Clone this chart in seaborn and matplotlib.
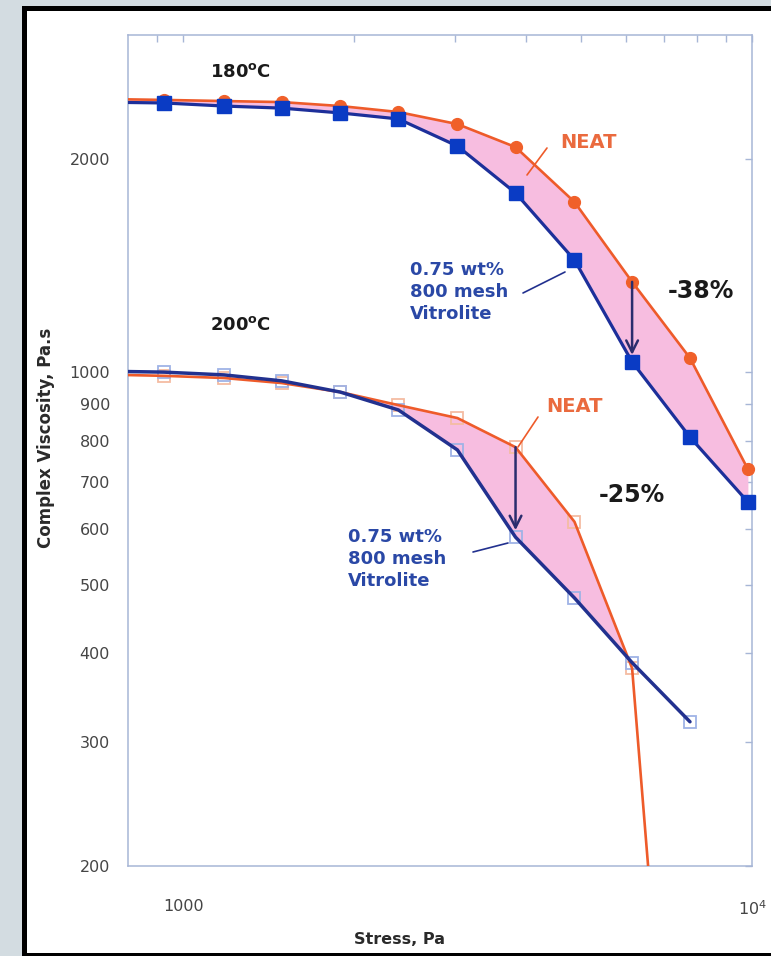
import numpy as np
import matplotlib
matplotlib.use("Agg")
import matplotlib.pyplot as plt
import seaborn as sns
from matplotlib.patches import Rectangle
from matplotlib.ticker import FixedLocator, FixedFormatter, NullFormatter

# ---- data -------------------------------------------------------------
stress = [730, 925, 1180, 1490, 1890, 2390, 3035, 3840, 4875, 6155, 7780, 9835]

# 180 C
neat_180 = [2435, 2428, 2419, 2411, 2380, 2334, 2244, 2082, 1741, 1342, 1047, 729]
vitro_180 = [2410, 2404, 2380, 2364, 2327, 2282, 2089, 1793, 1441, 1034, 809, 655]

# 200 C (measured up to 7780 Pa)
neat_200 = [992, 988, 981, 965, 937, 898, 861, 783, 614, 381, 37]
vitro_200 = [1003, 1000, 991, 972, 937, 884, 776, 584, 479, 388, 320]

y_ticks = [200, 300, 400, 500, 600, 700, 800, 900, 1000, 2000]
y_tick_labels = ["200", "300", "400", "500", "600", "700", "800", "900", "1000", "2000"]
x_ticks = [1000, 10000]
x_tick_labels = ["1000", "$10^4$"]
x_minor = [900, 2000, 3000, 4000, 5000, 6000, 7000, 8000, 9000]

# ---- style ------------------------------------------------------------
sns.set_theme(style="white")
plt.rcParams["font.family"] = ["DejaVu Sans"]

RED = "#ee5b2a"
RED_MK = "#f0602a"
BLUE_180 = "#1d2f9a"
BLUE_MK = "#0a3bc4"
BLUE_200 = "#22318f"
PINK = "#f7bde0"
ORANGE_TXT = "#ea6a3e"
BLUE_TXT = "#2a48a6"
SPINE = "#a7b6d6"
ARROW = "#2b2d6e"

W, H = 771, 956
fig = plt.figure(figsize=(W / 100, H / 100), dpi=100, facecolor="#d3dce1")

# white panel with heavy black border
fig.patches.append(Rectangle((23.5 / W, 1 - 955 / H), (820 - 23.5) / W, (955 - 7.5) / H,
                             transform=fig.transFigure, facecolor="white",
                             edgecolor="black", lw=3.6, zorder=-10))

L, R, T, B = 128, 752, 35, 866
ax = fig.add_axes([L / W, 1 - B / H, (R - L) / W, (B - T) / H])
ax.set_facecolor("white")
ax.set_xscale("log")
ax.set_yscale("log")


def P(x, y):
    """pixel position -> axes fraction"""
    return (x - L) / (R - L), (B - y) / (B - T)


def band(x, hi, lo):
    lx = np.log10(np.asarray(x, float))
    grid = np.linspace(lx[0], lx[-1], 1500)
    h = np.interp(grid, lx, np.log10(hi))
    l = np.interp(grid, lx, np.log10(lo))
    ax.fill_between(10 ** grid, 10 ** h, 10 ** l, where=h >= l,
                    color=PINK, lw=0, zorder=1)


s = np.array(stress, float)
s200 = s[:len(neat_200)]

band(s, neat_180, vitro_180)
band(s200, neat_200, vitro_200)

# 200 C: faint hollow markers under the lines
vis200 = s200 >= 800
ax.plot(s200[vis200][:-1], np.array(neat_200)[vis200][:-1], ls="none", marker="s",
        ms=8.5, mfc="none", mec="#f4bca2", mew=1.3, zorder=2)
ax.plot(s200[vis200], np.array(vitro_200)[vis200], ls="none", marker="s",
        ms=8.5, mfc="none", mec="#9fb3e6", mew=1.3, zorder=2, clip_on=False)

sns.lineplot(x=s200, y=neat_200, ax=ax, color=RED, lw=1.9, sort=False,
             estimator=None, zorder=3)
sns.lineplot(x=s200, y=vitro_200, ax=ax, color=BLUE_200, lw=2.5, sort=False,
             estimator=None, zorder=4)

# 180 C: lines with filled markers
sns.lineplot(x=s, y=neat_180, ax=ax, color=RED, lw=1.9, sort=False,
             estimator=None, zorder=5)
sns.lineplot(x=s, y=vitro_180, ax=ax, color=BLUE_180, lw=2.3, sort=False,
             estimator=None, zorder=6)
vis = (s >= 800) & (s <= 10000)
ax.plot(s[vis], np.array(neat_180)[vis], ls="none", marker="o", ms=8.5,
        mfc=RED_MK, mec=RED_MK, zorder=5.5, clip_on=False)
ax.plot(s[vis], np.array(vitro_180)[vis], ls="none", marker="s", ms=10,
        mfc=BLUE_MK, mec=BLUE_MK, zorder=6.5, clip_on=False)

# reduction arrows
arrow_kw = dict(arrowstyle="->,head_length=0.7,head_width=0.35", color=ARROW,
                lw=1.8, shrinkA=0, shrinkB=5)
ax.annotate("", xy=(s[9], vitro_180[9]), xytext=(s[9], neat_180[9]),
            arrowprops=arrow_kw, zorder=8)
ax.annotate("", xy=(s[7], vitro_200[7]), xytext=(s[7], neat_200[7]),
            arrowprops=arrow_kw, zorder=8)

# axes limits and ticks
ax.set_xlim(800, 10000)
ax.set_ylim(200, 3000)
ax.xaxis.set_major_locator(FixedLocator(x_ticks))
ax.xaxis.set_major_formatter(FixedFormatter(x_tick_labels))
ax.xaxis.set_minor_locator(FixedLocator(x_minor))
ax.xaxis.set_minor_formatter(NullFormatter())
ax.yaxis.set_major_locator(FixedLocator(y_ticks))
ax.yaxis.set_major_formatter(FixedFormatter(y_tick_labels))
ax.yaxis.set_minor_locator(FixedLocator([]))
ax.tick_params(which="both", direction="in", top=True, right=True, color=SPINE,
               length=5, width=1, labelsize=11.5, labelcolor="#454545")
ax.tick_params(axis="x", pad=24)
ax.tick_params(axis="y", pad=13)
for sp in ax.spines.values():
    sp.set_color(SPINE)
    sp.set_linewidth(1.1)

ax.set_xlabel("Stress, Pa", fontsize=11.5, fontweight="bold", color="#2a2a2a")
ax.set_ylabel("Complex Viscosity, Pa.s", fontsize=12, fontweight="bold", color="#2a2a2a")
ax.xaxis.set_label_coords(*P(400, 932))
ax.yaxis.set_label_coords(*P(55, 438))

# annotations
tx = dict(transform=ax.transAxes, fontweight="bold", zorder=9)
ax.text(*P(240, 72), r"180$^\mathbf{o}$C", fontsize=13, color="#1a1a1a",
        ha="center", va="center", **tx)
ax.text(*P(240, 325), r"200$^\mathbf{o}$C", fontsize=13, color="#1a1a1a",
        ha="center", va="center", **tx)
ax.text(*P(588, 142), "NEAT", fontsize=14, color=ORANGE_TXT, ha="center", va="center", **tx)
ax.text(*P(575, 407), "NEAT", fontsize=14, color=ORANGE_TXT, ha="center", va="center", **tx)
ax.text(*P(701, 291), "-38%", fontsize=17, color="#1a1a1a", ha="center", va="center", **tx)
ax.text(*P(632, 495), "-25%", fontsize=17, color="#1a1a1a", ha="center", va="center", **tx)
ax.text(*P(410, 292), "0.75 wt%\n800 mesh\nVitrolite", fontsize=13, color=BLUE_TXT,
        ha="left", va="center", linespacing=1.3, **tx)
ax.text(*P(348, 559), "0.75 wt%\n800 mesh\nVitrolite", fontsize=13, color=BLUE_TXT,
        ha="left", va="center", linespacing=1.3, **tx)

# leader lines
for (x0, y0), (x1, y1), c in [((547, 148), (527, 175), RED),
                               ((523, 293), (565, 272), BLUE_200),
                               ((538, 417), (518, 447), RED),
                               ((473, 552), (508, 543), BLUE_200)]:
    a0, b0 = P(x0, y0)
    a1, b1 = P(x1, y1)
    ax.plot([a0, a1], [b0, b1], transform=ax.transAxes, color=c, lw=1.2, zorder=9)

fig.savefig("out.png", dpi=100, facecolor=fig.get_facecolor())
